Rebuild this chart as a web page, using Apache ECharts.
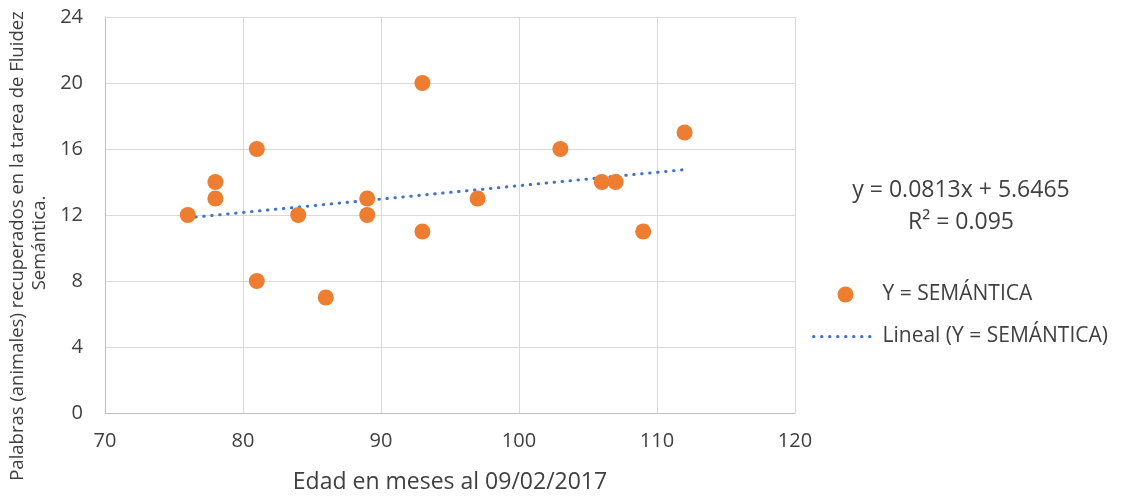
<!DOCTYPE html>
<html>
<head>
<meta charset="utf-8">
<script src="https://cdn.jsdelivr.net/npm/echarts@6/dist/echarts.min.js"></script>
<style>html,body{margin:0;padding:0;background:#fff}#c{width:1121px;height:500px}</style>
</head>
<body>
<div id="c"></div>
<script>
// Data
var ages = [76, 78, 78, 81, 81, 84, 86, 89, 89, 93, 93, 97, 103, 106, 107, 109, 112];
var semantica = [12, 14, 13, 16, 8, 12, 7, 13, 12, 20, 11, 13, 16, 14, 14, 11, 17];
var trendX = [76, 112];
var trendY = [11.83, 14.75];
var xTicks = [70, 80, 90, 100, 110, 120];
var yTicks = [0, 4, 8, 12, 16, 20, 24];
var seriesName = 'Y = SEMÁNTICA';
var trendName = 'Lineal (Y = SEMÁNTICA)';
var equationLines = ['y = 0.0813x + 5.6465', 'R² = 0.095'];
var xTitle = 'Edad en meses al 09/02/2017';
var yTitleLines = ['Palabras (animales) recuperados en la tarea de Fluidez', 'Semántica.'];

var FONT = '"Open Sans", "Liberation Sans", sans-serif';
var TXT = '#404040';

var chart = echarts.init(document.getElementById('c'), null, {renderer: 'canvas'});
var scatterData = ages.map(function (a, i) { return [a, semantica[i]]; });
var trendData = trendX.map(function (x, i) { return [x, trendY[i]]; });
var dotted = {color: '#4472C4', width: 3, type: [0.5, 7.5], cap: 'round'};

function rotText(txt, x, y) {
  return {type: 'text', x: x, y: y, rotation: Math.PI / 2,
    style: {text: txt, fontFamily: FONT, fontSize: 18.5, fill: TXT, align: 'center', verticalAlign: 'middle'}};
}

chart.setOption({
  animation: false,
  backgroundColor: '#ffffff',
  grid: {left: 105, right: 326, top: 17, bottom: 87, containLabel: false, outerBoundsMode: 'none'},
  xAxis: {
    type: 'value', min: xTicks[0], max: xTicks[xTicks.length - 1], interval: 10,
    name: xTitle, nameLocation: 'middle', nameGap: 58,
    nameTextStyle: {fontFamily: FONT, fontSize: 23, color: TXT},
    axisLine: {show: true, lineStyle: {color: '#bfbfbf', width: 1}},
    axisTick: {show: false},
    axisLabel: {fontFamily: FONT, fontSize: 20, color: TXT, margin: 18},
    splitLine: {show: true, lineStyle: {color: '#d9d9d9', width: 1}}
  },
  yAxis: {
    type: 'value', min: yTicks[0], max: yTicks[yTicks.length - 1], interval: 4,
    axisLine: {show: true, lineStyle: {color: '#bfbfbf', width: 1}},
    axisTick: {show: false},
    axisLabel: {fontFamily: FONT, fontSize: 20, color: TXT, margin: 22},
    splitLine: {show: true, lineStyle: {color: '#d9d9d9', width: 1}}
  },
  legend: {
    orient: 'vertical', left: 807, top: 279,
    itemWidth: 64, itemHeight: 16, itemGap: 21,
    textStyle: {fontFamily: FONT, fontSize: 21, color: TXT},
    data: [
      {name: seriesName, icon: 'circle'},
      {name: trendName, itemStyle: {opacity: 0}, lineStyle: dotted}
    ]
  },
  graphic: [
    rotText(yTitleLines[0], 18, 246),
    rotText(yTitleLines[1], 40, 243),
    {type: 'text', x: 961, y: 190, style: {text: equationLines[0], fontFamily: FONT, fontSize: 23, fill: TXT, align: 'center', verticalAlign: 'middle'}},
    {type: 'text', x: 961, y: 222, style: {text: equationLines[1], fontFamily: FONT, fontSize: 23, fill: TXT, align: 'center', verticalAlign: 'middle'}}
  ],
  series: [
    {
      name: seriesName, type: 'scatter', data: scatterData,
      symbol: 'circle', symbolSize: 16,
      itemStyle: {color: '#ED7D31', opacity: 1}, z: 3
    },
    {
      name: trendName, type: 'line', data: trendData,
      symbol: 'none', showSymbol: false, z: 2,
      lineStyle: dotted,
      itemStyle: {color: '#4472C4'}
    }
  ]
});
</script>
</body>
</html>
